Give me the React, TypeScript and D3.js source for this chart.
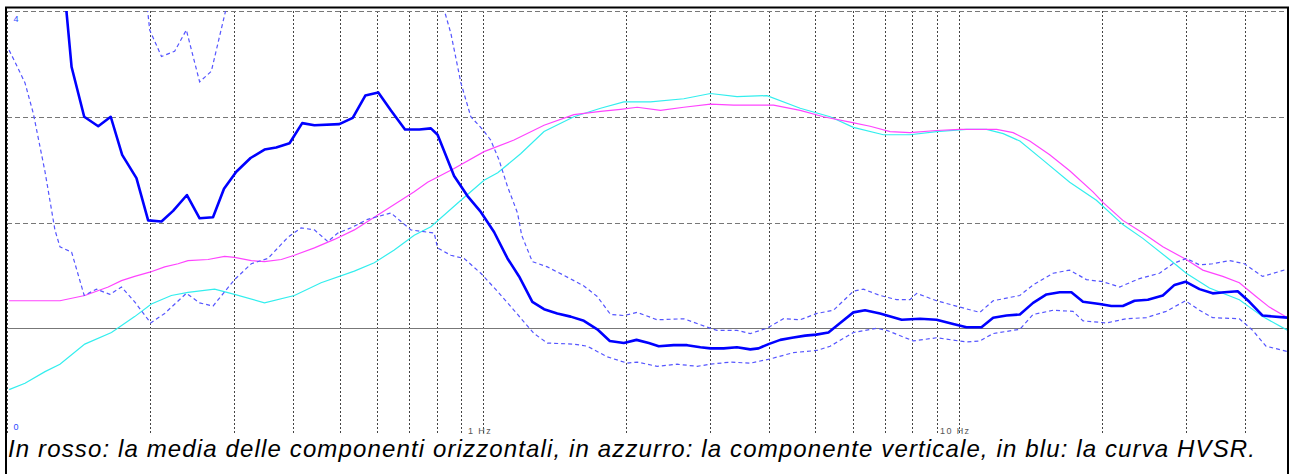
import { line, scaleLinear, scaleLog } from "d3";

// HVSR curve (thick blue)
const hvsrFreq = [0.132, 0.1367, 0.1453, 0.1555, 0.1652, 0.1746, 0.1871, 0.198, 0.2112, 0.2234, 0.2389, 0.254, 0.271, 0.2858, 0.3033, 0.325, 0.3477, 0.3679, 0.3925, 0.4173, 0.4427, 0.4994, 0.5329, 0.5663, 0.6031, 0.6412, 0.6863, 0.7355, 0.7779, 0.8035, 0.8704, 0.9288, 0.9904, 1.056, 1.127, 1.192, 1.271, 1.345, 1.434, 1.53, 1.631, 1.74, 1.849, 1.979, 2.104, 2.233, 2.343, 2.519, 2.688, 2.867, 3.009, 3.208, 3.421, 3.649, 3.798, 3.986, 4.219, 4.465, 4.761, 5.02, 5.327, 5.637, 6.01, 6.359, 6.838, 7.594, 8.295, 8.989, 9.743, 10.39, 11.17, 11.82, 12.61, 13.45, 14.34, 15.3, 16.31, 17.26, 18.26, 19.79, 20.94, 22.14, 23.43, 24.99, 26.87, 28.43, 29.99, 32.08, 34.2, 36.2, 38.6, 40.85, 43.55, 49.08];
const hvsrVal = [4.21, 3.47, 3.0, 2.91, 3.0, 2.64, 2.42, 2.02, 2.01, 2.11, 2.26, 2.04, 2.05, 2.32, 2.48, 2.61, 2.69, 2.71, 2.75, 2.94, 2.92, 2.93, 2.99, 3.2, 3.23, 3.06, 2.88, 2.88, 2.89, 2.83, 2.44, 2.25, 2.1, 1.91, 1.66, 1.49, 1.25, 1.18, 1.14, 1.11, 1.07, 0.99, 0.88, 0.86, 0.89, 0.86, 0.83, 0.84, 0.84, 0.82, 0.81, 0.81, 0.82, 0.8, 0.81, 0.85, 0.89, 0.91, 0.93, 0.94, 0.96, 1.05, 1.15, 1.17, 1.14, 1.08, 1.09, 1.08, 1.04, 1.01, 1.01, 1.1, 1.12, 1.13, 1.24, 1.32, 1.34, 1.34, 1.25, 1.23, 1.21, 1.21, 1.26, 1.27, 1.31, 1.41, 1.44, 1.37, 1.33, 1.34, 1.35, 1.25, 1.12, 1.1];

// mean of horizontal components (magenta)
const hFreq = [0.101, 0.1292, 0.1457, 0.1632, 0.174, 0.1855, 0.1995, 0.2145, 0.2288, 0.2401, 0.2646, 0.2866, 0.3008, 0.3262, 0.3477, 0.3771, 0.4018, 0.4427, 0.4876, 0.537, 0.5915, 0.6515, 0.7176, 0.7656, 0.8704, 1.006, 1.163, 1.345, 1.554, 1.768, 1.948, 2.111, 2.363, 2.645, 3.009, 3.367, 4.085, 4.646, 5.2, 5.916, 6.516, 7.177, 7.904, 8.989, 10.06, 12.02, 13.02, 14.11, 15.54, 17.12, 19.16, 20.11, 22.14, 24.39, 26.87, 30.09, 32.6, 35.91, 38.91, 42.18, 44.98, 49.14];
const hVal = [1.26, 1.26, 1.31, 1.39, 1.45, 1.49, 1.53, 1.58, 1.61, 1.64, 1.65, 1.68, 1.67, 1.64, 1.63, 1.65, 1.69, 1.76, 1.84, 1.93, 2.05, 2.17, 2.29, 2.38, 2.51, 2.67, 2.78, 2.92, 3.02, 3.05, 3.07, 3.09, 3.06, 3.09, 3.12, 3.11, 3.11, 3.06, 3.0, 2.95, 2.91, 2.86, 2.85, 2.87, 2.88, 2.88, 2.85, 2.77, 2.64, 2.49, 2.29, 2.19, 2.02, 1.9, 1.77, 1.65, 1.55, 1.49, 1.43, 1.3, 1.2, 1.1];

// vertical component (cyan)
const vFreq = [0.101, 0.1091, 0.1202, 0.1292, 0.1457, 0.1658, 0.1855, 0.2011, 0.2215, 0.2401, 0.2731, 0.3008, 0.3477, 0.4018, 0.4572, 0.537, 0.5915, 0.6515, 0.7176, 0.7779, 0.8995, 1.006, 1.075, 1.201, 1.345, 1.554, 1.768, 1.979, 2.251, 2.645, 3.009, 3.421, 3.956, 4.646, 5.37, 6.01, 6.948, 7.904, 8.989, 10.39, 11.45, 12.41, 13.45, 15.05, 17.12, 19.48, 22.14, 24.39, 27.75, 30.09, 33.67, 38.91, 43.55, 49.14];
const vVal = [0.42, 0.48, 0.59, 0.66, 0.85, 0.96, 1.11, 1.23, 1.31, 1.34, 1.37, 1.32, 1.24, 1.31, 1.43, 1.54, 1.62, 1.74, 1.88, 1.96, 2.21, 2.4, 2.47, 2.65, 2.86, 3.0, 3.08, 3.14, 3.14, 3.17, 3.22, 3.19, 3.2, 3.08, 3.0, 2.9, 2.83, 2.83, 2.86, 2.88, 2.88, 2.84, 2.77, 2.59, 2.38, 2.21, 1.98, 1.85, 1.65, 1.52, 1.38, 1.27, 1.11, 0.98];

// HVSR * std (upper dashed)
const upFreq = [0.1944, 0.1995, 0.2112, 0.2251, 0.2382, 0.254, 0.2688, 0.2876, 0.2904, 0.5, 0.8163, 0.8295, 0.8567, 0.8995, 0.9437, 0.9986, 1.039, 1.082, 1.127, 1.183, 1.207, 1.271, 1.367, 1.481, 1.631, 1.74, 1.856, 1.979, 2.111, 2.325, 2.645, 2.961, 3.107, 3.421, 3.649, 3.956, 4.286, 4.646, 5.036, 5.457, 6.01, 6.308, 6.838, 7.412, 7.904, 8.164, 8.989, 10.06, 11.08, 11.82, 13.45, 14.34, 15.79, 17.12, 18.56, 20.11, 21.8, 24.01, 26.44, 28.19, 30.09, 32.08, 34.2, 37.08, 39.87, 43.55, 49.14];
const upVal = [4.29, 3.82, 3.57, 3.62, 3.82, 3.33, 3.43, 3.99, 4.2, 4.6, 4.1, 4.01, 3.79, 3.32, 3.0, 2.88, 2.78, 2.59, 2.34, 2.09, 1.88, 1.63, 1.58, 1.5, 1.4, 1.3, 1.13, 1.12, 1.15, 1.08, 1.09, 1.01, 0.98, 0.98, 0.95, 1.0, 1.09, 1.08, 1.14, 1.17, 1.35, 1.37, 1.31, 1.27, 1.27, 1.33, 1.26, 1.2, 1.15, 1.26, 1.31, 1.41, 1.52, 1.55, 1.46, 1.44, 1.39, 1.47, 1.52, 1.61, 1.66, 1.6, 1.61, 1.64, 1.61, 1.49, 1.56];

// HVSR / std (lower dashed)
const loFreq = [0.101, 0.1039, 0.1091, 0.1136, 0.1202, 0.1261, 0.1292, 0.1367, 0.1453, 0.1542, 0.1645, 0.174, 0.1855, 0.2004, 0.2145, 0.2382, 0.254, 0.271, 0.3008, 0.3262, 0.3535, 0.3894, 0.4151, 0.4427, 0.4724, 0.4957, 0.5286, 0.5729, 0.6412, 0.7063, 0.7904, 0.8035, 0.8567, 0.9136, 0.9904, 1.073, 1.163, 1.281, 1.367, 1.554, 1.658, 1.826, 2.012, 2.111, 2.325, 2.561, 2.821, 3.009, 3.313, 3.649, 4.02, 4.498, 5.036, 5.37, 6.01, 6.73, 7.063, 8.033, 8.989, 10.39, 11.08, 11.82, 13.45, 14.34, 15.79, 17.39, 18.26, 20.44, 22.51, 24.8, 27.31, 29.99, 32.08, 34.2, 38.91, 41.5, 44.27, 49.14];
const loVal = [3.63, 3.52, 3.32, 3.03, 2.48, 1.93, 1.77, 1.72, 1.31, 1.37, 1.32, 1.39, 1.25, 1.05, 1.14, 1.33, 1.24, 1.21, 1.46, 1.61, 1.66, 1.86, 1.95, 1.93, 1.82, 1.9, 1.95, 2.03, 2.09, 1.93, 1.9, 1.76, 1.69, 1.66, 1.52, 1.35, 1.17, 0.95, 0.86, 0.85, 0.83, 0.73, 0.67, 0.68, 0.64, 0.66, 0.64, 0.66, 0.68, 0.67, 0.71, 0.77, 0.79, 0.83, 0.96, 1.0, 0.98, 0.88, 0.91, 0.87, 0.88, 0.95, 0.99, 1.13, 1.17, 1.16, 1.07, 1.05, 1.09, 1.1, 1.16, 1.26, 1.17, 1.1, 1.09, 0.98, 0.83, 0.78];

const gridFreqs = [0.1, 0.2, 0.3, 0.4, 0.5, 0.6, 0.7, 0.8, 0.9, 1, 2, 3, 4, 5, 6, 7, 8, 9, 10, 20, 30, 40];
const dashedLevels = [4, 3, 2];
const refLevel = 1;
const caption =
  "In rosso: la media delle componenti orizzontali, in azzurro: la componente verticale, in blu: la curva HVSR.";

const W = 1294;
const H = 474;
const left = 7;
const right = 1287;
const top = 11;
const bottom = 434;

const x = scaleLog().domain([0.1, 50]).range([left, left + 475.8 * Math.log10(500)]);
const y = scaleLinear().domain([0, 4]).range([bottom, top]);

const path = (fs: number[], vs: number[]) =>
  line<number>()
    .x((_, i) => x(fs[i]))
    .y((v) => y(v))(vs) || "";

export default function App() {
  return (
    <div style={{ position: "absolute", left: 0, top: 0 }}>
      <svg width={W} height={H} style={{ display: "block" }}>
        <rect width={W} height={H} fill="white" />
        <defs>
          <clipPath id="plot">
            <rect x={left} y={top} width={right - left} height={bottom - top} />
          </clipPath>
        </defs>
        {gridFreqs.map((f) => (
          <line
            key={f}
            x1={Math.round(x(f)) + 0.5}
            x2={Math.round(x(f)) + 0.5}
            y1={top}
            y2={bottom}
            stroke="#444"
            strokeDasharray="2,2"
          />
        ))}
        {dashedLevels.map((v) => (
          <line
            key={v}
            x1={left}
            x2={right}
            y1={Math.round(y(v)) + 0.5}
            y2={Math.round(y(v)) + 0.5}
            stroke="#777"
            strokeDasharray="5,3"
          />
        ))}
        <line
          x1={left}
          x2={right}
          y1={Math.round(y(refLevel)) + 0.5}
          y2={Math.round(y(refLevel)) + 0.5}
          stroke="#777"
        />
        <g clipPath="url(#plot)" fill="none">
          <path d={path(vFreq, vVal)} stroke="#33eeee" strokeWidth={1.2} />
          <path d={path(hFreq, hVal)} stroke="#ff44ff" strokeWidth={1.2} />
          <path d={path(upFreq, upVal)} stroke="#5555ff" strokeWidth={1.2} strokeDasharray="4,3" />
          <path d={path(loFreq, loVal)} stroke="#5555ff" strokeWidth={1.2} strokeDasharray="4,3" />
          <path d={path(hvsrFreq, hvsrVal)} stroke="#0000ff" strokeWidth={2.6} strokeLinejoin="round" />
        </g>
        <text x={13.5} y={22} fontSize={9} fill="#2a4aff" fontFamily="Liberation Sans, Arial, sans-serif">
          4
        </text>
        <text x={13.5} y={429.5} fontSize={9} fill="#2a4aff" fontFamily="Liberation Sans, Arial, sans-serif">
          0
        </text>
        <text x={468} y={434} fontSize={9} letterSpacing={1.4} fill="#555" fontFamily="Liberation Sans, Arial, sans-serif">
          1 Hz
        </text>
        <text x={940} y={434} fontSize={9} letterSpacing={1.4} fill="#555" fontFamily="Liberation Sans, Arial, sans-serif">
          10 Hz
        </text>
        <text
          x={8}
          y={457}
          fontSize={24}
          fontStyle="italic"
          fill="#000"
          fontFamily="Liberation Sans, Arial, sans-serif"
          textLength={1247}
          lengthAdjust="spacing"
        >
          {caption}
        </text>
        <rect x={6} y={7.5} width={1282} height={490} fill="none" stroke="#000" strokeWidth={2} />
      </svg>
    </div>
  );
}
